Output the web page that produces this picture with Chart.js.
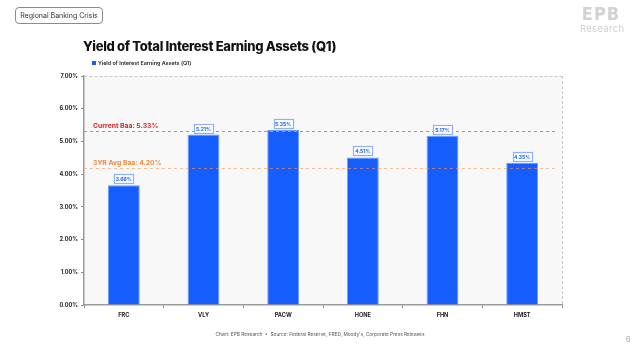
<!DOCTYPE html>
<html>
<head>
<meta charset="utf-8">
<script src="https://cdn.jsdelivr.net/npm/chart.js@4.4.1/dist/chart.umd.min.js"></script>
<style>
  html, body { margin:0; padding:0; background:#ffffff; }
  body { width:640px; height:357px; position:relative; overflow:hidden; font-family: Inter, "Open Sans", sans-serif; }
  #wrap { position:absolute; left:0; top:0; width:640px; height:357px; }
  .tag { position:absolute; left:15px; top:7px; width:88px; height:17px; border:1px solid #8a8a8a; border-radius:4px;
         font-size:7px; color:#333; line-height:15px; text-align:center; box-sizing:border-box; }
  .title { position:absolute; left:83px; top:38px; font-size:13px; font-weight:800; color:#111; line-height:16px; letter-spacing:-0.3px; white-space:nowrap; }
  .logo1 { position:absolute; left:580px; top:4px; width:42px; font-size:18px; font-weight:900; color:#d2d2d2; font-family:"DejaVu Sans Condensed", "Liberation Sans Narrow", sans-serif; letter-spacing:1px; text-align:center; line-height:19px;}
  .logo2 { position:absolute; left:580px; top:23px; font-size:9.5px; color:#cfcfcf; line-height:11px; letter-spacing:0.3px;}
  .foot { position:absolute; left:0; width:640px; top:331px; text-align:center; font-size:4.8px; color:#555; }
  .page { position:absolute; left:626px; top:335px; font-size:7px; color:#999; }
</style>
</head>
<body>
<div id="wrap"><canvas id="c" width="640" height="357"></canvas></div>
<div class="tag">Regional Banking Crisis</div>
<div class="title">Yield of Total Interest Earning Assets (Q1)</div>
<div class="logo1">EPB</div>
<div class="logo2">Research</div>
<div class="foot">Chart: EPB Research&nbsp; •&nbsp; Source: Federal Reserve, FRED, Moody's, Corporate Press Releases</div>
<div class="page">6</div>
<script>
const categories = ["FRC", "VLY", "PACW", "HONE", "FHN", "HMST"];
const yieldValues = [3.66, 5.21, 5.35, 4.51, 5.17, 4.35];
const seriesName = "Yield of Interest Earning Assets (Q1)";
const refLabels = ["Current Baa: 5.33%", "3YR Avg Baa: 4.20%"];
const refValues = [5.33, 4.20];
const refColors = ["#d62b2b", "#f08a3c"];
const refLineColors = ["#e87a7a", "rgba(242,150,90,0.6)"];
const yTicks = [0, 1, 2, 3, 4, 5, 6, 7];

const FONT = "Inter, 'Open Sans', sans-serif";

const bgPlugin = {
  id: 'bg',
  beforeDraw(chart) {
    const {ctx, chartArea: a} = chart;
    ctx.save();
    ctx.fillStyle = '#f8f8f8';
    ctx.fillRect(a.left, a.top, a.right - a.left, a.bottom - a.top);
    ctx.restore();
  },
  afterDraw(chart) {
    const {ctx, chartArea: a} = chart;
    ctx.save();
    ctx.strokeStyle = '#c8c8c8';
    ctx.lineWidth = 1;
    ctx.setLineDash([3, 2]);
    ctx.beginPath();
    ctx.moveTo(a.right + 0.5, a.top);
    ctx.lineTo(a.right + 0.5, a.bottom);
    ctx.stroke();
    ctx.restore();
    // legend
    ctx.save();
    ctx.fillStyle = '#155dfc';
    ctx.fillRect(a.left + 8, 61, 4, 4);
    ctx.fillStyle = '#222';
    ctx.font = "600 5.4px " + FONT;
    ctx.textBaseline = 'middle';
    ctx.fillText(seriesName, a.left + 14, 63.2);
    ctx.restore();
  }
};

const refPlugin = {
  id: 'refs',
  afterDatasetsDraw(chart) {
    const {ctx, chartArea: a, scales: {y}} = chart;
    ctx.save();
    refValues.forEach((v, i) => {
      const py = Math.round(y.getPixelForValue(v)) + 0.5;
      ctx.strokeStyle = refLineColors[i];
      ctx.lineWidth = 1;
      ctx.setLineDash([3, 3]);
      ctx.beginPath();
      ctx.moveTo(a.left, py);
      ctx.lineTo(a.right - 6, py);
      ctx.stroke();
      ctx.setLineDash([]);
      ctx.fillStyle = refColors[i];
      ctx.font = "700 6.8px " + FONT;
      ctx.textBaseline = 'alphabetic';
      ctx.fillText(refLabels[i], a.left + 9, py - 3.5);
    });
    ctx.restore();
  }
};

const labelPlugin = {
  id: 'barLabels',
  afterDatasetsDraw(chart) {
    const {ctx} = chart;
    const meta = chart.getDatasetMeta(0);
    ctx.save();
    ctx.font = "700 5px " + FONT;
    ctx.textAlign = 'center';
    ctx.textBaseline = 'middle';
    meta.data.forEach((el, i) => {
      const txt = yieldValues[i].toFixed(2) + '%';
      const w = 19, h = 9;
      const x = el.x, top = el.y - 2 - h;
      ctx.fillStyle = '#ffffff';
      ctx.fillRect(x - w / 2, top, w, h);
      ctx.strokeStyle = '#8fb0ff';
      ctx.lineWidth = 1.2;
      ctx.strokeRect(Math.round(x - w / 2) + 0.5, Math.round(top) + 0.5, w, h);
      ctx.fillStyle = '#155dfc';
      ctx.fillText(txt, x, top + h / 2 + 1);
    });
    ctx.restore();
  }
};

new Chart(document.getElementById('c'), {
  type: 'bar',
  data: {
    labels: categories,
    datasets: [{
      label: seriesName,
      data: yieldValues,
      backgroundColor: '#155dfc',
      borderColor: '#6e9bff',
      borderWidth: 1,
      barPercentage: 0.8,
      categoryPercentage: 0.5
    }]
  },
  options: {
    responsive: false,
    animation: false,
    devicePixelRatio: 1,
    layout: { padding: { top: 76, right: 78, bottom: 0, left: 0 } },
    plugins: {
      legend: { display: false },
      tooltip: { enabled: false },
      title: { display: false }
    },
    scales: {
      y: {
        min: 0, max: 7,
        afterFit(s) { s.width = 84; },
        afterBuildTicks(s) { s.ticks = yTicks.map(v => ({ value: v })); },
        ticks: {
          padding: 3,
          color: '#222',
          font: { family: FONT, size: 5.6, weight: '700' },
          callback: v => Number(v).toFixed(2) + '%'
        },
        grid: {
          drawOnChartArea: true,
          drawTicks: true,
          tickLength: 3,
          color: ctx => (ctx.tick && ctx.tick.value === 7) ? '#c8c8c8' : 'rgba(0,0,0,0)',
          tickColor: '#8a8a8a',
          lineWidth: 1
        },
        border: { display: true, color: '#9a9a9a', width: 1.5, dash: [3, 2] }
      },
      x: {
        afterFit(s) { s.height = 52; },
        ticks: {
          padding: 4,
          color: '#222',
          font: { family: FONT, size: 5.6, weight: '700' }
        },
        grid: {
          drawOnChartArea: false,
          drawTicks: true,
          tickLength: 3,
          tickColor: '#8a8a8a',
          offset: true
        },
        border: { display: true, color: '#9a9a9a', width: 1.5 }
      }
    }
  },
  plugins: [bgPlugin, refPlugin, labelPlugin]
});
</script>
</body>
</html>
